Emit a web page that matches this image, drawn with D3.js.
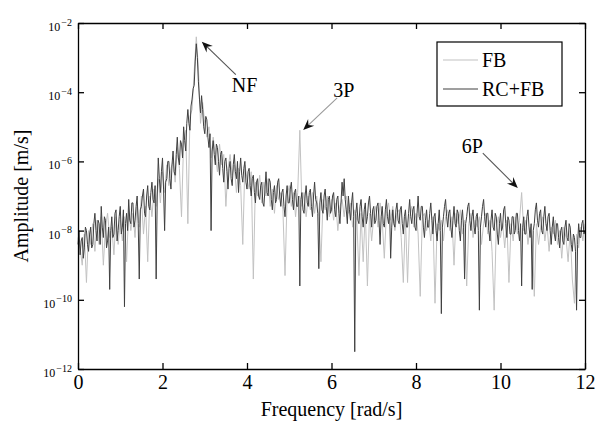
<!DOCTYPE html>
<html>
<head>
<meta charset="utf-8">
<script src="https://cdn.jsdelivr.net/npm/d3@7"></script>
<style>
  body { margin: 0; background: #fff; }
  svg { display: block; }
  text { font-family: "Liberation Serif", "DejaVu Serif", serif; fill: #000; }
</style>
</head>
<body>
<div id="chart"></div>
<script>
// spectra, stored as log10 of amplitude [m/s]
// FB: one value every 0.05 rad/s, RC+FB: one value every 0.025 rad/s
const fbStep = 0.05;
const rcfbStep = 0.025;

const fbLog = [
  -8.2,-8.5,-9.0,-8.1,-9.5,-8.0,-8.4,-7.8,-8.6,-7.7,
  -8.4,-7.6,-9.0,-7.9,-7.5,-8.2,-7.9,-8.7,-7.6,-8.4,
  -7.7,-8.3,-7.6,-8.9,-7.4,-8.0,-7.5,-8.2,-7.2,-7.9,
  -7.0,-8.1,-7.3,-8.9,-7.0,-7.6,-6.8,-7.3,-6.5,-7.2,
  -6.3,-6.9,-6.1,-6.7,-6.2,-6.0,-6.6,-5.6,-6.2,-7.6,
  -5.4,-5.1,-7.8,-4.7,-4.5,-3.4,-2.4,-3.3,-4.9,-4.3,
  -4.9,-5.3,-5.0,-5.9,-5.3,-5.8,-6.3,-5.5,-6.1,-5.8,
  -7.3,-6.2,-5.8,-6.4,-6.1,-6.9,-6.2,-6.7,-8.4,-6.1,
  -6.5,-6.8,-6.3,-9.4,-6.6,-7.0,-6.4,-7.2,-6.6,-7.0,
  -6.5,-7.3,-6.8,-7.5,-6.7,-7.1,-6.9,-7.4,-9.3,-7.0,
  -6.7,-7.3,-6.9,-7.6,-6.9,-5.1,-7.3,-6.9,-7.6,-7.0,
  -7.4,-6.9,-7.5,-7.0,-7.6,-8.9,-7.1,-7.4,-7.0,-7.6,
  -7.1,-7.7,-7.2,-8.0,-7.3,-7.1,-7.6,-7.0,-7.5,-7.2,
  -7.9,-7.4,-7.7,-9.3,-7.5,-8.9,-7.4,-9.6,-7.5,-8.3,
  -7.6,-7.3,-7.9,-7.2,-7.7,-8.8,-7.5,-7.2,-7.7,-7.3,
  -8.0,-7.5,-7.4,-8.2,-9.5,-7.6,-9.5,-7.6,-7.3,-7.9,
  -7.5,-8.1,-9.9,-7.6,-7.5,-8.0,-7.7,-8.3,-7.6,-10.1,
  -7.8,-8.0,-7.7,-8.3,-7.6,-7.4,-8.0,-7.6,-9.0,-7.5,
  -7.8,-7.4,-8.1,-7.7,-9.6,-7.8,-7.5,-8.2,-7.7,-7.9,
  -7.6,-8.4,-7.8,-7.5,-8.1,-7.7,-8.6,-10.3,-7.9,-7.6,
  -8.2,-7.8,-8.5,-7.7,-9.5,-7.8,-8.3,-7.6,-8.1,-7.7,
  -6.9,-8.0,-7.7,-8.4,-7.9,-8.2,-9.9,-7.8,-8.4,-7.9,
  -7.6,-8.3,-7.8,-8.6,-7.9,-8.1,-7.7,-8.4,-8.0,-8.8,
  -7.9,-8.2,-8.9,-8.0,-9.4,-10.1,-8.1,-8.5,-7.9,-8.3,
  -7.8
];

const rcfbLog = [
  -8.4,-8.0,-8.7,-8.3,-8.2,-8.8,-8.5,-7.9,-8.0,-8.4,-8.6,-8.1,-7.9,-8.5,-8.4,-7.8,-7.5,-8.0,-8.3,-7.7,
  -7.8,-8.4,-7.3,-7.9,-8.2,-7.6,-7.7,-8.5,-8.3,-7.9,-9.7,-8.0,-7.6,-8.2,-8.1,-7.5,-7.4,-8.3,-8.0,-7.6,
  -7.3,-8.1,-7.9,-7.4,-10.2,-7.8,-7.5,-8.0,-7.1,-7.7,-7.8,-7.2,-7.2,-7.9,-7.7,-7.3,-7.0,-7.8,-9.4,-7.4,
  -7.3,-7.0,-6.8,-7.5,-7.6,-7.0,-6.7,-7.3,-7.4,-6.9,-6.6,-7.1,-7.2,-6.7,-9.4,-7.0,-5.9,-6.5,-6.9,-6.3,
  -5.9,-6.8,-8.0,-6.6,-6.5,-6.0,-6.0,-6.5,-6.8,-6.1,-5.7,-6.3,-6.4,-5.8,-5.3,-5.9,-6.1,-5.4,-5.5,-5.9,
  -5.0,-5.4,-5.7,-4.9,-4.5,-4.9,-5.1,-4.4,-4.2,-3.9,-3.8,-3.1,-2.6,-3.0,-3.7,-4.2,-4.6,-4.1,-4.5,-5.0,
  -5.2,-4.7,-4.8,-5.3,-5.6,-5.2,-8.0,-5.7,-5.4,-5.8,-6.1,-5.5,-5.6,-6.0,-6.4,-5.8,-5.7,-6.2,-6.6,-6.0,
  -5.9,-6.3,-6.8,-6.2,-6.0,-6.5,-6.7,-6.1,-5.8,-6.3,-6.5,-6.0,-6.9,-6.3,-5.9,-6.4,-6.6,-6.2,-6.0,-6.6,
  -6.8,-6.3,-6.2,-6.7,-7.0,-6.5,-6.4,-6.9,-7.2,-6.6,-6.5,-7.0,-7.1,-6.7,-6.6,-7.2,-7.3,-6.8,-6.3,-6.9,
  -7.0,-6.5,-6.6,-7.1,-7.4,-6.9,-6.7,-7.2,-7.1,-6.6,-6.5,-7.0,-7.3,-6.9,-6.8,-7.3,-7.6,-7.0,-6.7,-7.2,
  -7.2,-6.8,-6.6,-7.1,-7.4,-6.9,-6.8,-7.3,-7.3,-7.0,-9.6,-7.1,-6.9,-7.4,-7.5,-7.0,-6.7,-7.2,-7.3,-6.9,
  -6.8,-7.3,-7.6,-7.0,-6.6,-7.1,-7.2,-7.5,-9.1,-7.2,-6.9,-7.4,-7.5,-7.0,-6.8,-7.3,-7.7,-7.1,-7.0,-7.5,
  -7.4,-7.0,-6.9,-7.4,-7.6,-7.1,-7.0,-7.5,-7.8,-7.2,-6.6,-7.0,-6.5,-7.1,-7.4,-7.8,-7.0,-7.4,-7.7,-7.2,
  -6.9,-7.6,-11.5,-7.5,-7.2,-7.7,-7.8,-7.3,-7.1,-7.6,-7.9,-7.4,-7.2,-7.8,-7.6,-7.2,-7.0,-7.5,-7.9,-7.4,
  -7.3,-7.8,-7.7,-7.3,-7.2,-7.7,-8.4,-7.6,-7.3,-7.8,-7.9,-7.4,-7.1,-7.6,-7.8,-7.4,-8.8,-7.9,-7.4,-7.8,
  -7.9,-7.4,-7.2,-7.7,-7.8,-7.4,-7.3,-7.8,-8.1,-7.6,-7.4,-7.9,-7.9,-7.5,-7.1,-7.6,-7.8,-7.4,-7.3,-7.9,
  -8.0,-7.5,-7.0,-7.6,-7.7,-7.3,-7.3,-7.9,-8.2,-7.7,-7.4,-7.9,-7.9,-7.5,-7.2,-7.7,-8.1,-7.6,-7.5,-8.0,
  -8.3,-7.8,-7.4,-8.0,-10.4,-7.9,-7.6,-7.3,-7.1,-7.6,-7.9,-7.5,-7.4,-7.9,-8.2,-7.7,-7.3,-7.8,-7.9,-7.4,
  -7.5,-8.0,-8.3,-7.7,-7.4,-7.9,-9.4,-7.8,-7.6,-7.3,-7.2,-7.7,-8.0,-7.6,-7.4,-7.9,-8.1,-7.6,-7.5,-8.0,
  -10.3,-7.9,-7.6,-7.3,-7.1,-7.6,-7.9,-7.5,-7.5,-8.0,-8.3,-7.7,-7.4,-7.9,-8.0,-7.5,-7.6,-8.1,-8.4,-7.8,
  -7.5,-8.0,-7.9,-7.4,-7.3,-7.8,-8.2,-7.6,-7.7,-8.1,-8.1,-7.6,-7.6,-8.1,-8.0,-7.5,-7.5,-8.0,-8.3,-7.8,
  -9.6,-7.9,-7.6,-8.1,-8.1,-7.6,-7.4,-7.9,-8.2,-7.8,-9.7,-8.0,-7.8,-7.4,-7.2,-7.7,-7.9,-7.5,-7.4,-8.0,
  -8.1,-7.6,-7.3,-7.8,-8.0,-7.6,-7.5,-8.0,-8.4,-7.9,-7.6,-8.1,-8.3,-7.8,-7.8,-8.2,-8.5,-8.0,-7.9,-8.3,
  -8.4,-7.9,-7.7,-8.2,-8.3,-7.8,-7.9,-8.4,-8.6,-8.1,-8.2,-8.6,-10.3,-8.4,-7.8,-8.2,-8.2,-7.8,-7.7,-8.1,
  -8.0
];

const seriesNames = ["FB", "RC+FB"];
const xTicks = [0, 2, 4, 6, 8, 10, 12];
const yTickExps = [-12, -10, -8, -6, -4, -2];

// arrow tips (frequency, log10 amplitude)
const annotLabels = ["NF", "3P", "6P"];
const annotFreq = [2.93, 5.33, 10.41];
const annotExp = [-2.54, -5.09, -6.77];

const width = 597, height = 426;
const plot = { left: 78, right: 585, top: 23, bottom: 369 };
const colors = { FB: "#c2c2c2", "RC+FB": "#404040" };

const svg = d3.select("#chart").append("svg")
    .attr("width", width)
    .attr("height", height);

const x = d3.scaleLinear().domain([0, 12]).range([plot.left, plot.right]);
const y = d3.scaleLog().domain([1e-12, 1e-2]).range([plot.bottom, plot.top]);

function toPoints(logs, step) {
    return logs.map((v, i) => ({ f: i * step, a: Math.pow(10, v) }));
}

const series = [
    { name: "FB", points: toPoints(fbLog, fbStep) },
    { name: "RC+FB", points: toPoints(rcfbLog, rcfbStep) }
];

const line = d3.line()
    .x(d => x(d.f))
    .y(d => y(d.a));

svg.append("g")
    .selectAll("path")
    .data(series)
    .enter()
    .append("path")
    .attr("d", d => line(d.points))
    .attr("fill", "none")
    .attr("stroke", d => colors[d.name])
    .attr("stroke-width", 1)
    .attr("stroke-linejoin", "round");

// axes, ticks pointing inward on all four sides
const tickLen = 6;
const yTickVals = yTickExps.map(e => Math.pow(10, e));

const axisStyle = g => {
    g.select(".domain").attr("stroke", "#000").attr("stroke-width", 1.3);
    g.selectAll(".tick line").attr("stroke", "#000").attr("stroke-width", 1.3);
};

svg.append("g")
    .attr("transform", `translate(0,${plot.bottom})`)
    .call(d3.axisBottom(x).tickValues(xTicks).tickSizeInner(-tickLen).tickSizeOuter(0)
        .tickPadding(tickLen + 6).tickFormat(d3.format("d")))
    .call(axisStyle)
    .call(g => g.selectAll(".tick text")
        .attr("y", 6)
        .style("font-size", "20px")
        .style("font-family", '"Liberation Serif", serif'));

svg.append("g")
    .attr("transform", `translate(0,${plot.top})`)
    .call(d3.axisTop(x).tickValues(xTicks).tickSizeInner(-tickLen).tickSizeOuter(0).tickFormat(""))
    .call(axisStyle);

const yAxisLeft = svg.append("g")
    .attr("transform", `translate(${plot.left},0)`)
    .call(d3.axisLeft(y).tickValues(yTickVals).tickSizeInner(-tickLen).tickSizeOuter(0).tickFormat(""))
    .call(axisStyle);

svg.append("g")
    .attr("transform", `translate(${plot.right},0)`)
    .call(d3.axisRight(y).tickValues(yTickVals).tickSizeInner(-tickLen).tickSizeOuter(0).tickFormat(""))
    .call(axisStyle);

// 10^n labels on the left
const yLabel = yAxisLeft.selectAll(".tick")
    .append("text")
    .attr("x", -6)
    .attr("y", 7.5)
    .attr("text-anchor", "end")
    .style("font-size", "12px");
yLabel.append("tspan").text("10");
yLabel.append("tspan")
    .attr("dy", -5.5)
    .attr("dx", 1)
    .style("font-size", "10px")
    .text((d, i) => "\u2212" + Math.abs(yTickExps[i]));

// axis titles
svg.append("text")
    .attr("x", (plot.left + plot.right) / 2)
    .attr("y", 416)
    .attr("text-anchor", "middle")
    .style("font-size", "20px")
    .text("Frequency [rad/s]");

svg.append("text")
    .attr("transform", `translate(28,${(plot.top + plot.bottom) / 2}) rotate(-90)`)
    .attr("text-anchor", "middle")
    .style("font-size", "20px")
    .text("Amplitude [m/s]");

// legend
const legend = svg.append("g").attr("transform", "translate(437,42)");
legend.append("rect")
    .attr("width", 125)
    .attr("height", 64)
    .attr("fill", "#fff")
    .attr("stroke", "#000")
    .attr("stroke-width", 1.2);

const legendRow = legend.selectAll("g.row")
    .data(seriesNames)
    .enter()
    .append("g")
    .attr("class", "row")
    .attr("transform", (d, i) => `translate(0,${18 + i * 29})`);

legendRow.append("line")
    .attr("x1", 6)
    .attr("x2", 41)
    .attr("stroke", d => colors[d])
    .attr("stroke-width", 1.2);

legendRow.append("text")
    .attr("x", 45)
    .attr("y", 7)
    .style("font-size", "20px")
    .text(d => d);

// annotations with arrows
const annotLayout = {
    NF: { tail: [34, 33], text: [30, 50], color: "#555" },
    "3P": { tail: [34, -32], text: [30, -33], color: "#999" },
    "6P": { tail: [-35, -35], text: [-56, -35], color: "#555" }
};

function arrowHead(tx, ty, fx, fy) {
    const ang = Math.atan2(ty - fy, tx - fx);
    const L = 11, W = 4.5;
    const cx = Math.cos(ang), sy = Math.sin(ang);
    const bx = tx - L * cx, by = ty - L * sy;
    const nx = tx - 0.65 * L * cx, ny = ty - 0.65 * L * sy;
    return `M${tx},${ty}L${bx - W * sy},${by + W * cx}L${nx},${ny}L${bx + W * sy},${by - W * cx}Z`;
}

annotLabels.forEach((label, i) => {
    const tx = x(annotFreq[i]);
    const ty = y(Math.pow(10, annotExp[i]));
    const lay = annotLayout[label];
    const fx = tx + lay.tail[0], fy = ty + lay.tail[1];
    const ang = Math.atan2(ty - fy, tx - fx);

    svg.append("line")
        .attr("x1", fx).attr("y1", fy)
        .attr("x2", tx - 6 * Math.cos(ang))
        .attr("y2", ty - 6 * Math.sin(ang))
        .attr("stroke", lay.color)
        .attr("stroke-width", 1.1);

    svg.append("path")
        .attr("d", arrowHead(tx, ty, fx, fy))
        .attr("fill", "#111");

    svg.append("text")
        .attr("x", tx + lay.text[0])
        .attr("y", ty + lay.text[1])
        .style("font-size", "20px")
        .text(label);
});
</script>
</body>
</html>
